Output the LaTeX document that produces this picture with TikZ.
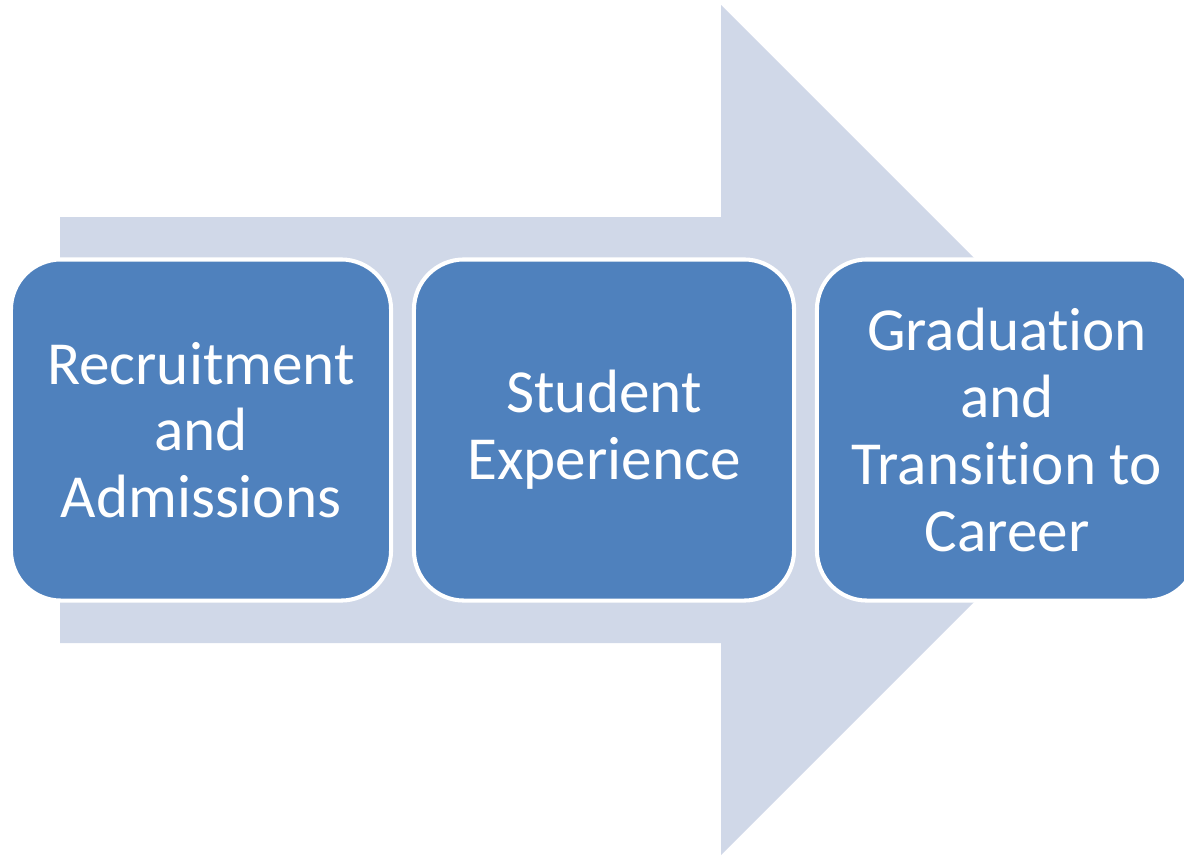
\documentclass[tikz,border=0pt]{standalone}
\usepackage{fontspec}
\setmainfont{Carlito}[Ligatures=NoCommon]
\definecolor{arrowfill}{HTML}{D0D8E8}
\definecolor{boxfill}{HTML}{4F81BD}
\begin{document}
\begin{tikzpicture}[x=0.025cm,y=-0.025cm,
  stage/.style={shape=rectangle,rounded corners=1.25cm,draw=white,line width=2.9pt,
    fill=boxfill,text=white,align=center,inner sep=0pt,
    minimum width=9.5cm,minimum height=8.525cm,
    font=\fontsize{43.5}{47.5}\selectfont}]
\useasboundingbox (0,0) rectangle (1184,856);
\clip (0,0) rectangle (1184,856);
\fill[arrowfill] (60,217) -- (721,217) -- (721,5) -- (1146,430)
  -- (721,855) -- (721,643) -- (60,643) -- cycle;
\node(1) at (201,430)[stage]  {Recruitment\\and\\Admissions};
\node(2) at (604,430)[stage]  {Student\\Experience};
\node(3) at (1007,430)[stage] {Graduation\\and\\Transition to\\Career};
\end{tikzpicture}
\end{document}
